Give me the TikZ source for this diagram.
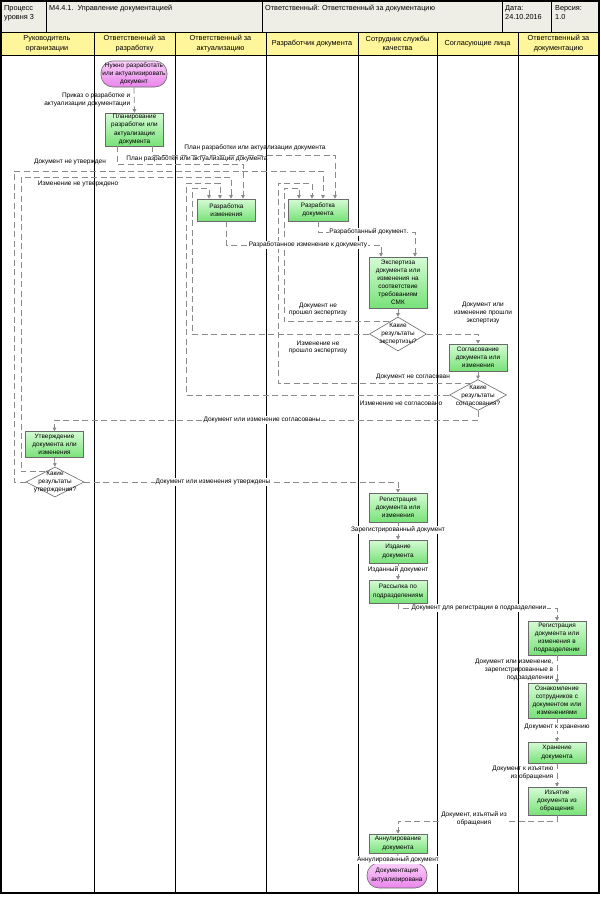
\documentclass[tikz,border=0pt]{standalone}
\usepackage{fontspec}
\setmainfont{Liberation Sans}
\usetikzlibrary{arrows.meta,calc,shapes.geometric}
\definecolor{gtop}{HTML}{D5FBD5}
\definecolor{gbot}{HTML}{78E278}
\definecolor{ptop}{HTML}{FAD0FA}
\definecolor{pbot}{HTML}{E985EA}
\definecolor{bord}{HTML}{6A6A6A}
\definecolor{flowc}{HTML}{8A8A8A}
\definecolor{hdrc}{HTML}{EEEEE6}
\definecolor{lanec}{HTML}{FFF59A}
\newcommand{\bxf}{\fontsize{6.4}{8.1}\selectfont}
\newcommand{\lbf}{\fontsize{6.5}{7.8}\selectfont}
\newcommand{\hdf}{\fontsize{7.3}{9.5}\selectfont}
\begin{document}
\begin{tikzpicture}[x=1pt,y=-1pt,
  box/.style={draw=bord, line width=0.6pt, top color=gtop, bottom color=gbot, minimum width=58pt, inner sep=0pt, text width=57pt, align=center, font=\bxf},
  ev/.style={draw=bord, line width=0.6pt, rounded corners=12pt, top color=ptop, bottom color=pbot, minimum width=66pt, inner sep=0pt, text width=66pt, align=center, font=\bxf},
  dec/.style={diamond, draw=bord, line width=0.6pt, fill=white, inner sep=0pt},
  dtext/.style={font=\bxf, align=center, inner sep=0pt},
  flow/.style={draw=flowc, line width=0.8pt, dash pattern=on 6pt off 3.5pt, -{Triangle[length=3.5pt,width=3.5pt]}},
  lbl/.style={font=\lbf, inner sep=0.6pt, align=center},
  lblw/.style={lbl, fill=white},
  hd/.style={font=\hdf, inner sep=0pt, align=left, anchor=north west},
  lh/.style={font=\hdf, inner sep=0pt, align=center}]
\useasboundingbox (0,0) rectangle (601,902);
% frame and header
\fill[hdrc] (1,1) rectangle (599,32);
\fill[lanec] (1,32) rectangle (599,55);
\fill[white] (1,55) rectangle (599,893);
\foreach \xx in {46,262,502,551} \draw[line width=0.6pt] (\xx,1) -- (\xx,32);
\foreach \xx in {94,175,266,358,437,518} \draw[line width=1pt] (\xx,32) -- (\xx,893);
\draw[line width=0.6pt] (1,32) -- (599,32);
\draw[line width=1pt] (1,55) -- (599,55);
\draw[line width=1.2pt] (1,1) rectangle (599,893);
\node[hd] (h1) at (4,5) {Процесс\\уровня 3};
\node[hd] (h2) at (49,5) {М4.4.1.\ \ Управление документацией};
\node[hd] (h3) at (265,5) {Ответственный: Ответственный за документацию};
\node[hd] (h4) at (505,5) {Дата:\\24.10.2016};
\node[hd] (h5) at (555,5) {Версия:\\1.0};
\node[lh] (l1) at (47,43.5) {Руководитель\\организации};
\node[lh] (l2) at (134.5,43.5) {Ответственный за\\разработку};
\node[lh] (l3) at (220.5,43.5) {Ответственный за\\актуализацию};
\node[lh] (l4) at (312,43.5) {Разработчик документа};
\node[lh] (l5) at (397.5,43.5) {Сотрудник службы\\качества};
\node[lh] (l6) at (477.5,43.5) {Согласующие лица};
\node[lh] (l7) at (558.5,43.5) {Ответственный за\\документацию};
% nodes
\node[ev, minimum height=26pt] (s) at (134,74) {Нужно разработать\\или актуализировать\\документ};
\node[box, minimum height=33pt] (p1) at (134.5,129.5) {Планирование\\разработки или\\актуализации\\документа};
\node[box, minimum height=22pt] (ri) at (226.5,210) {Разработка\\изменения};
\node[box, minimum height=22pt, minimum width=60pt] (rd) at (318,210) {Разработка\\документа};
\node[box, minimum height=51pt] (ex) at (398,282.5) {Экспертиза\\документа или\\изменения на\\соответствие\\требованиям\\СМК};
\node[dec, minimum width=57pt, minimum height=34pt] (d1) at (398,334) {};
\node[dtext] (d1t) at (d1) {Какие\\результаты\\экспертизы?};
\node[box, minimum height=27pt] (sg) at (478,357.5) {Согласование\\документа или\\изменения};
\node[dec, minimum width=57pt, minimum height=31pt] (d2) at (478,395) {};
\node[dtext] (d2t) at (d2) {Какие\\результаты\\согласования?};
\node[box, minimum height=26pt] (ut) at (54.5,444.5) {Утверждение\\документа или\\изменения};
\node[dec, minimum width=58pt, minimum height=30pt] (d3) at (55,482) {};
\node[dtext] (d3t) at (d3) {Какие\\результаты\\утверждения?};
\node[box, minimum height=29pt] (rg) at (398,507.5) {Регистрация\\документа или\\изменения};
\node[box, minimum height=23pt] (iz) at (398,551.5) {Издание\\документа};
\node[box, minimum height=23pt] (rs) at (398,591.5) {Рассылка по\\подразделениям};
\node[box, minimum height=34pt] (rp) at (557,638) {Регистрация\\документа или\\изменения в\\подразделении};
\node[box, minimum height=35pt] (oz) at (557,700.5) {Ознакомление\\сотрудников с\\документом или\\изменениями};
\node[box, minimum height=21pt] (hr) at (557,752.5) {Хранение\\документа};
\node[box, minimum height=28pt] (izj) at (557,801) {Изъятие\\документа из\\обращения};
\node[box, minimum height=19pt] (an) at (398,843.5) {Аннулирование\\документа};
\node[ev, minimum height=25pt, minimum width=60pt, text width=60pt] (e) at (397,875.5) {Документация\\актуализирована};
% edge points on diamonds
\coordinate (d3a) at ($(d3.north)!0.33!(d3.west)$);
\coordinate (d1a) at ($(d1.north)!0.3!(d1.west)$);
\coordinate (d2a) at ($(d2.north)!0.25!(d2.west)$);
% connectors
\draw[flow] (s.south) -- (p1.north);
\draw[flow] ($(p1.south)+(17.5,0)$) -- (152,155) -- (335,155) -- ($(rd.north)+(17,0)$);
\draw[flow] ($(p1.south)+(-17.5,0)$) -- (117,164) -- (243,164) -- ($(ri.north)+(16.5,0)$);
\draw[flow] (d3.west) -- (14,482) -- (14,171) -- (323,171) -- ($(rd.north)+(5,0)$);
\draw[flow] (d3a) -| (21,177) -- (231,177) -- ($(ri.north)+(4.5,0)$);
\draw[flow] (d1a) -| (284,188) -- (299,188) -- ($(rd.north)+(-19,0)$);
\draw[flow] (d1.west) -| (192,188) -- (209,188) -- ($(ri.north)+(-17.5,0)$);
\draw[flow] (d2a) -| (278,183) -- (312,183) -- ($(rd.north)+(-6,0)$);
\draw[flow] (d2.west) -| (186,183) -- (220,183) -- ($(ri.north)+(-6.5,0)$);
\draw[flow] (rd.south) -- (318,232) -- (415,232) -- ($(ex.north)+(17,0)$);
\draw[flow] (ri.south) -- (226.5,245) -- (381,245) -- ($(ex.north)+(-17,0)$);
\draw[flow] (ex.south) -- (d1.north);
\draw[flow] (d1.east) -| (sg.north);
\draw[flow] (sg.south) -- (d2.north);
\draw[flow] (d2.south) -- (478,420) -- (54.5,420) -- (ut.north);
\draw[flow] (ut.south) -- (d3.north);
\draw[flow] (d3.east) -| (rg.north);
\draw[flow] (rg.south) -- (iz.north);
\draw[flow] (iz.south) -- (rs.north);
\draw[flow] (rs.south) -- (398,608) -- (557,608) -- (rp.north);
\draw[flow] (rp.south) -- (oz.north);
\draw[flow] (oz.south) -- (hr.north);
\draw[flow] (hr.south) -- (izj.north);
\draw[flow] (izj.south) -- (557,821) -- (398,821) -- (an.north);
\draw[flow] (an.south) -- (e.north);
% labels
\node[lbl, align=right, anchor=east] (t1) at (131,100) {Приказ о разработке и\\актуализации документации};
\node[lbl] (t2) at (255,147.5) {План разработки или актуализации документа};
\node[lbl] (t3) at (197,158.5) {План разработки или актуализации документа};
\node[lbl] (t4) at (70,161.5) {Документ не утвержден};
\node[lbl] (t5) at (78,184) {Изменение не утверждено};
\node[lblw] (t6) at (368,232) {Разработанный документ};
\node[lblw] (t7) at (308,245) {Разработанное изменение к документу};
\node[lbl] (t8) at (318,309.5) {Документ не\\прошел экспертизу};
\node[lbl] (t9) at (318,347.5) {Изменение не\\прошло экспертизу};
\node[lbl] (t10) at (483,313) {Документ или\\изменение прошли\\экспертизу};
\node[lbl] (t11) at (413,377) {Документ не согласован};
\node[lbl] (t12) at (401,403) {Изменение не согласовано};
\node[lblw] (t13) at (262,420) {Документ или изменение согласованы};
\node[lblw] (t14) at (213,482) {Документ или изменения утверждены};
\node[lblw] (t15) at (398,530) {Зарегистрированный документ};
\node[lblw] (t16) at (398,570) {Изданный документ};
\node[lblw] (t17) at (479,608) {Документ для регистрации в подразделении};
\node[lbl, align=right, anchor=east] (t18) at (554,670) {Документ или изменение,\\зарегистрированные в\\подразделении};
\node[lblw] (t19) at (557,727) {Документ к хранению};
\node[lbl, align=right, anchor=east] (t20) at (554,773) {Документ к изъятию\\из обращения};
\node[lblw] (t21) at (474,819) {Документ, изъятый из\\обращения};
\node[lblw] (t22) at (398,860) {Аннулированный документ};
\end{tikzpicture}
\end{document}
